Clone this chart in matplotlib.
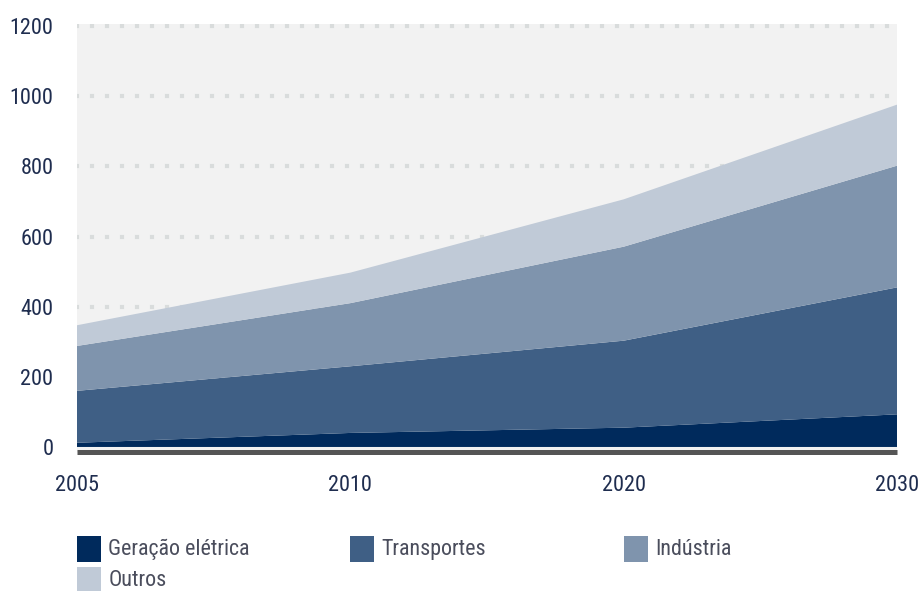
import matplotlib.pyplot as plt
from matplotlib.patches import Rectangle

anos = ['2005', '2010', '2020', '2030']
geracao = [12, 40, 55, 93]
transportes = [148, 190, 248, 362]
industria = [128, 180, 268, 347]
outros = [59, 87, 135, 174]

setores = ['Geração elétrica', 'Transportes', 'Indústria', 'Outros']
cores = ['#002a5c', '#3f5f85', '#7f94ad', '#c0cad7']

fonte = ['Roboto Condensed', 'Liberation Sans Narrow', 'Lato', 'DejaVu Sans']
cor_eixo = '#1f2d4f'

fig = plt.figure(figsize=(9.22, 5.91), dpi=100)
ax = fig.add_axes([0.0835, 0.236, 0.8895, 0.7235])
ax.set_facecolor('#f2f2f2')

x = list(range(len(anos)))
ax.stackplot(x, geracao, transportes, industria, outros,
             colors=cores, labels=setores, zorder=3)

ax.set_xlim(0, len(anos) - 1)
ax.set_ylim(-13, 1206)
ax.set_yticks([0, 200, 400, 600, 800, 1000, 1200])
ax.set_xticks(x)
ax.set_xticklabels(anos)

# dotted horizontal grid (square dots)
for v in [200, 400, 600, 800, 1000, 1200]:
    ax.axhline(v, color='#d9dcdc', linewidth=3.0,
               linestyle=(0.5, (1, 2.6)), zorder=1)

for s in ['top', 'left', 'right']:
    ax.spines[s].set_visible(False)
ax.spines['bottom'].set_color('#555555')
ax.spines['bottom'].set_linewidth(3.6)
ax.spines['bottom'].set_capstyle('butt')
ax.spines['bottom'].set_zorder(5)

ax.tick_params(axis='both', length=0, labelsize=16, labelcolor=cor_eixo)
ax.tick_params(axis='y', pad=17)
ax.tick_params(axis='x', pad=17)
for lab in ax.get_xticklabels() + ax.get_yticklabels():
    lab.set_fontfamily(fonte)

# legend: three columns aligned with the first three year ticks
posicoes = [(0, 0), (1, 0), (2, 0), (0, 1)]
for (col, lin), nome, cor in zip(posicoes, setores, cores):
    x0 = col / (len(anos) - 1)
    y0 = -0.258 - lin * 0.073
    ax.add_patch(Rectangle((x0, y0), 0.029, 0.061, transform=ax.transAxes,
                           facecolor=cor, edgecolor='none', clip_on=False))
    ax.text(x0 + 0.038, y0 + 0.030, nome, transform=ax.transAxes,
            fontsize=15.8, color='#4a4d5c', va='center', ha='left',
            fontfamily=fonte)

fig.savefig('out.png', dpi=100)
